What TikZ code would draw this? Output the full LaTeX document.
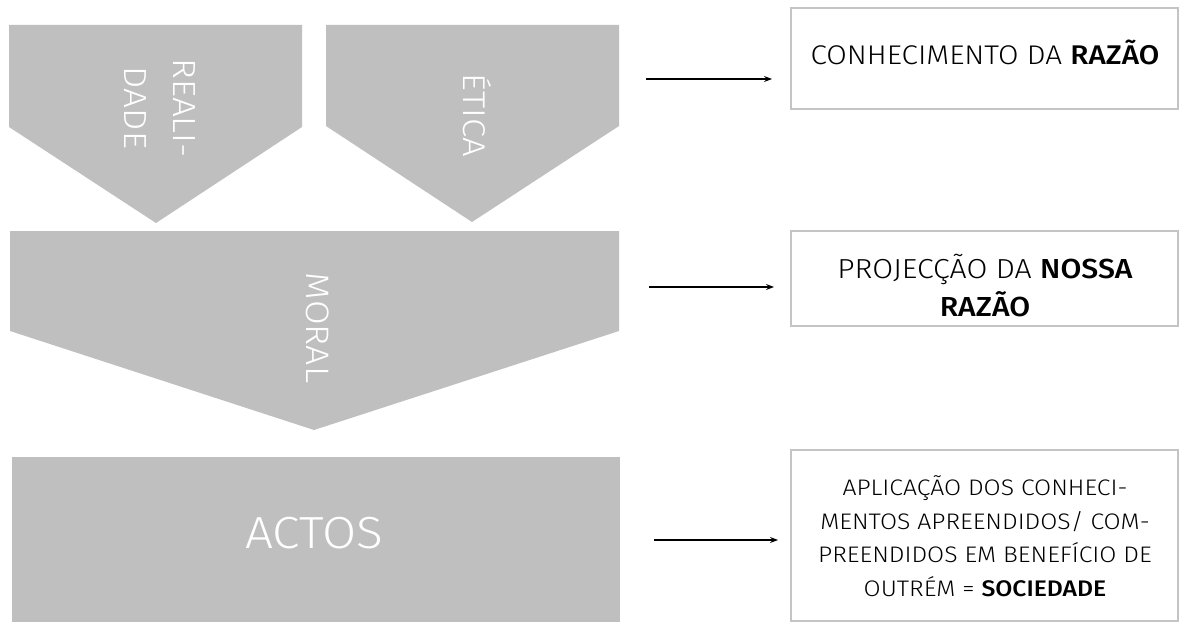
\documentclass[tikz,border=0pt]{standalone}
\usepackage{fontspec}
\IfFontExistsTF{Fira Sans Light}{%
  \setmainfont{Fira Sans Light}[BoldFont={Fira Sans Medium}, FakeStretch=1.1]%
}{%
  \setmainfont{Liberation Sans}%
}
\usetikzlibrary{arrows.meta}
\definecolor{shapegray}{HTML}{BFBFBF}
\definecolor{boxline}{HTML}{C4C4C4}
\begin{document}
\begin{tikzpicture}[x=1pt,y=-1pt,
  shapefill/.style={fill=shapegray},
  whitetext/.style={text=white, inner sep=0pt, align=center},
  infobox/.style={draw=boxline, line width=2pt, fill=white},
  infotext/.style={text=black, inner sep=0pt, align=center},
  arr/.style={line width=1.1pt, -{Stealth[length=8pt,width=6pt]}}]
\useasboundingbox (0,0) rectangle (1181,623);
% grey shapes
\fill[shapefill] (9,25) -- (302,25) -- (302,127) -- (156,223) -- (9,127) -- cycle;
\fill[shapefill] (326,25) -- (619,25) -- (619,126) -- (472,222) -- (326,126) -- cycle;
\fill[shapefill] (10,231) -- (619,231) -- (619,331) -- (314,430) -- (10,331) -- cycle;
\fill[shapefill] (12,457) rectangle (620,622);
% labels in shapes
\node[whitetext, rotate=-90, font=\fontsize{32}{49}\selectfont] (realidade) at (160,108) {REALI-\\DADE};
\node[whitetext, rotate=-90, font=\fontsize{31.5}{38}\selectfont] (etica) at (477,115) {ÉTICA};
\node[whitetext, rotate=-90, font=\fontsize{32.5}{38}\selectfont] (moral) at (318,328) {MORAL};
\node[whitetext, font=\fontsize{45}{50}\selectfont] (actos) at (314,533) {ACTOS};
% right boxes
\draw[infobox] (791,8) rectangle (1178,109);
\node[infotext, font=\fontsize{27}{30}\selectfont] (box1) at (985,52) {CONHECIMENTO DA \textbf{RAZÃO}};
\draw[infobox] (791,231) rectangle (1178,326);
\node[infotext, font=\fontsize{27.5}{38}\selectfont] (box2) at (985,286) {PROJECÇÃO DA \textbf{NOSSA}\\\textbf{RAZÃO}};
\draw[infobox] (791,450) rectangle (1178,621);
\node[infotext, font=\fontsize{22.5}{33.5}\selectfont] (box3) at (985,536) {APLICAÇÃO DOS CONHECI-\\MENTOS APREENDIDOS/ COM-\\PREENDIDOS EM BENEFÍCIO DE\\OUTRÉM = \textbf{SOCIEDADE}};
% arrows
\coordinate (a1s) at (646,79);
\coordinate (a1e) at (772,79);
\coordinate (a2s) at (649,287);
\coordinate (a2e) at (774,287);
\coordinate (a3s) at (654,540);
\coordinate (a3e) at (778,540);
\draw[arr] (a1s) -- (a1e);
\draw[arr] (a2s) -- (a2e);
\draw[arr] (a3s) -- (a3e);
\end{tikzpicture}
\end{document}
